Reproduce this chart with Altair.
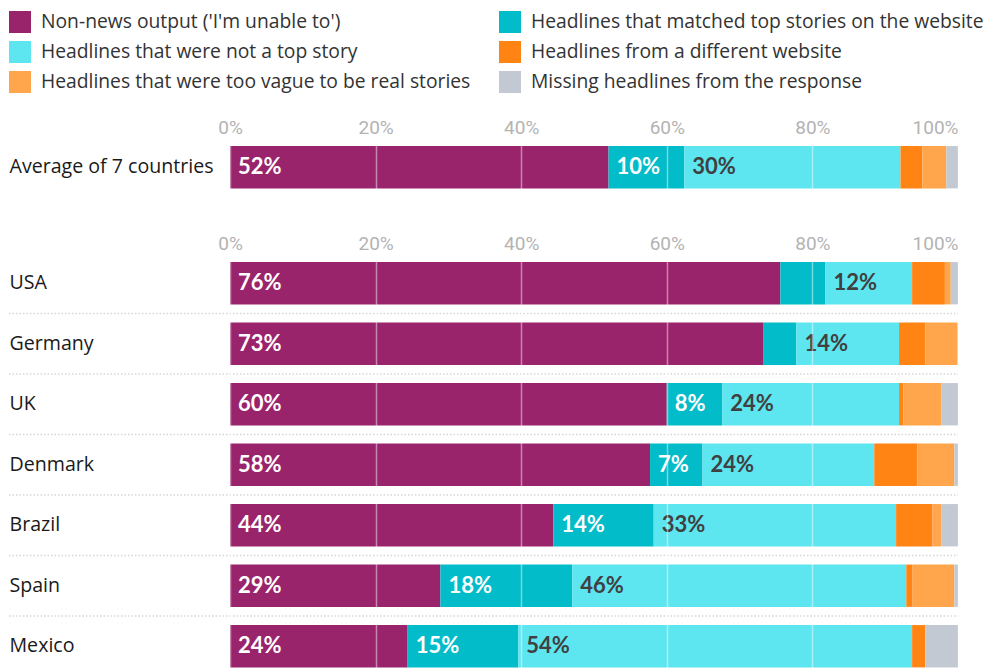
import altair as alt
import pandas as pd

categories = [
    "Non-news output ('I'm unable to')",
    "Headlines that matched top stories on the website",
    "Headlines that were not a top story",
    "Headlines from a different website",
    "Headlines that were too vague to be real stories",
    "Missing headlines from the response",
]
colors = ["#9a246b", "#02bcc9", "#5de5f0", "#ff8414", "#ffa54b", "#c3c9d3"]
label_colors = ["#ffffff", "#ffffff", "#404040", None, None, None]

avg_rows = ["Average of 7 countries"]
avg_nonnews = [52.0]
avg_matched = [10.4]
avg_not_top = [29.7]
avg_different = [3.0]
avg_vague = [3.3]
avg_missing = [1.6]

countries = ["USA", "Germany", "UK", "Denmark", "Brazil", "Spain", "Mexico"]
nonnews = [75.6, 73.3, 60.0, 57.7, 44.4, 28.9, 24.4]
matched = [6.2, 4.5, 7.6, 7.2, 13.8, 18.1, 15.2]
not_top = [11.9, 14.1, 24.3, 23.6, 33.3, 45.9, 54.1]
different = [4.5, 3.6, 0.6, 5.9, 5.0, 0.8, 1.8]
vague = [0.8, 4.4, 5.2, 5.1, 1.2, 5.8, 0.0]
missing = [1.0, 0.1, 2.3, 0.5, 2.3, 0.5, 4.5]

tick_values = [0, 20, 40, 60, 80, 100]

FONT = "Open Sans"
FS = 19.6
LEG_FS = 19.3
TICK_FONT = "Roboto"
LABEL_FONT = "Lato"
W = 728
STEP = 60.5
PI, PO = 0.3, 0.1
YAX = 221


def build(rows, series):
    recs = []
    for i, r in enumerate(rows):
        start = 0.0
        for j, cat in enumerate(categories):
            v = series[j][i]
            lab = ""
            if label_colors[j] is not None and v >= 7:
                lab = f"{round(v)}%"
            recs.append(dict(row=r, category=cat, order=j, value=v,
                             start=start, end=start + v, label=lab,
                             lcolor=label_colors[j] or "#000"))
            start += v
    return pd.DataFrame(recs)


def panel(rows, series, seps):
    df = build(rows, series)
    n = len(rows)
    h = STEP * (n - PI + 2 * PO)
    yscale = alt.Scale(domain=rows, paddingInner=PI, paddingOuter=PO)
    bars = alt.Chart(df).mark_bar().encode(
        y=alt.Y("row:N", sort=rows, scale=yscale,
                axis=alt.Axis(title=None, labelAlign="left", labelPadding=YAX,
                              ticks=False, tickSize=0, domain=False,
                              labelFontSize=FS, labelFont=FONT,
                              labelColor="#1a1a1a", labelLimit=400)),
        x=alt.X("start:Q", scale=alt.Scale(domain=[0, 100], nice=False),
                axis=alt.Axis(orient="top", values=tick_values, title=None,
                              labelExpr="datum.value + '%'",
                              labelAlign=alt.expr("datum.value == 100 ? 'right' : 'center'"),
                              labelBaseline="alphabetic",
                              labelPadding=7, ticks=False, tickSize=0,
                              domain=False, labelFontSize=19, labelFont=TICK_FONT,
                              labelColor="#b3b3b3", grid=True,
                              gridColor="#ffffff", gridOpacity=0.45,
                              gridWidth=1.5, zindex=1)),
        x2="end:Q",
        color=alt.Color("category:N",
                        scale=alt.Scale(domain=categories, range=colors),
                        legend=alt.Legend(
                            title=None, orient="none", legendX=-YAX,
                            legendY=-129, columns=2, direction="horizontal",
                            symbolType="square",
                            symbolSize=484, symbolStrokeWidth=0,
                            labelFontSize=LEG_FS, labelFont=FONT,
                            labelColor="#333333", labelLimit=600,
                            labelOffset=10, columnPadding=28, rowPadding=8,
                            padding=0)),
        order=alt.Order("order:Q"),
    )
    texts = alt.Chart(df).transform_filter("datum.label != ''").mark_text(
        align="left", baseline="middle", dx=8, font=LABEL_FONT,
        fontWeight="bold", fontSize=22,
    ).encode(
        y=alt.Y("row:N", sort=rows, scale=yscale),
        x=alt.X("start:Q"),
        text="label:N",
        color=alt.Color("lcolor:N", scale=None),
    )
    layers = [bars, texts]
    if seps:
        sep_df = pd.DataFrame({"row": rows[:-1]})
        rules = alt.Chart(sep_df).mark_rule(
            color="#d6d6d6", strokeDash=[1.5, 2], strokeWidth=1.5,
            yOffset=STEP / 2,
        ).encode(
            y=alt.Y("row:N", sort=rows, scale=yscale, bandPosition=0.5),
            x=alt.value(-YAX), x2=alt.value(W),
        )
        layers = [rules] + layers
    return alt.layer(*layers).properties(width=W, height=h)


avg_chart = panel(avg_rows, [avg_nonnews, avg_matched, avg_not_top,
                             avg_different, avg_vague, avg_missing], False)
country_chart = panel(countries, [nonnews, matched, not_top, different,
                                  vague, missing], True)

chart = alt.vconcat(avg_chart, country_chart, spacing=39).properties(
    padding={"top": 3, "left": 0, "right": 0, "bottom": 0}
).configure_view(stroke=None)

chart.save("out.html", embed_options={"renderer": "svg", "actions": False})
